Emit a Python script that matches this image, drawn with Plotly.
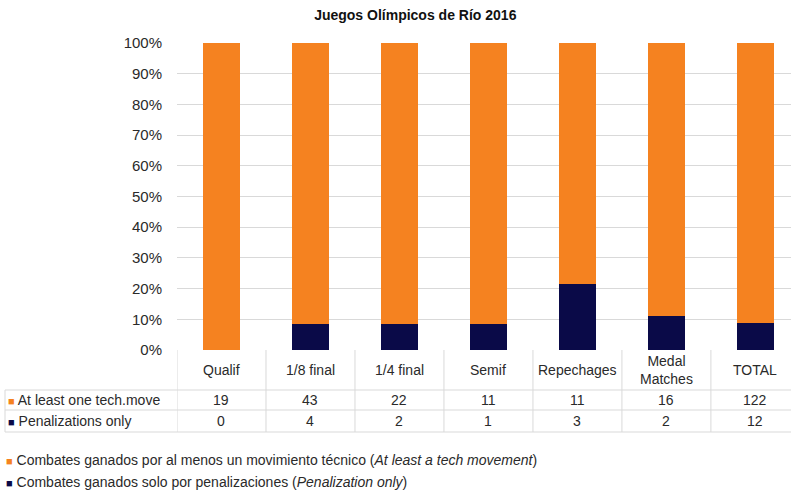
import plotly.graph_objects as go

categories = ["Qualif", "1/8 final", "1/4 final", "Semif", "Repechages", "Medal<br>Matches", "TOTAL"]
tech_move = [19, 43, 22, 11, 11, 16, 122]
penal_only = [0, 4, 2, 1, 3, 2, 12]
row_labels = ["At least one tech.move", "Penalizations only"]
legend_labels = [
    "Combates ganados por al menos un movimiento técnico (<i>At least a tech movement</i>)",
    "Combates ganados solo por penalizaciones (<i>Penalization only</i>)",
]

ORANGE = "#F58220"
NAVY = "#0A0A48"
GRID = "#D9D9D9"
FONT = "Arial, Liberation Sans, sans-serif"

W, H = 791, 493
L, T = 177, 43
PLOT_H = 307
R = 0
B = H - T - PLOT_H

xs = list(range(len(categories)))
totals = [a + b for a, b in zip(tech_move, penal_only)]
pct_pen = [b / t for b, t in zip(penal_only, totals)]
pct_tech = [a / t for a, t in zip(tech_move, totals)]

fig = go.Figure()
fig.add_bar(x=xs, y=pct_pen, marker_color=NAVY, width=0.41, name=row_labels[1],
            marker_line_width=0)
fig.add_bar(x=xs, y=pct_tech, marker_color=ORANGE, width=0.41, name=row_labels[0],
            marker_line_width=0)

def py(pix):
    return (T + PLOT_H - pix) / PLOT_H

def px(pix):
    return (pix - L) / (W - L - R)

shapes = []
line = dict(color=GRID, width=1)
for yy in [390, 410, 432]:
    shapes.append(dict(type="line", xref="paper", yref="paper", x0=px(5), x1=1.02,
                       y0=py(yy), y1=py(yy), line=line))
for i in range(len(categories) + 1):
    shapes.append(dict(type="line", xref="x", yref="paper", x0=i - 0.5, x1=i - 0.5,
                       y0=py(350), y1=py(432), line=line))
shapes.append(dict(type="line", xref="paper", yref="paper", x0=px(5), x1=px(5),
                   y0=py(390), y1=py(432), line=line))

annotations = []
tf = dict(family=FONT, size=14, color="#2a2a2a")
for i, c in enumerate(categories):
    annotations.append(dict(x=i, y=py(370), xref="x", yref="paper", text=c,
                            showarrow=False, font=tf, yanchor="middle"))
    annotations.append(dict(x=i, y=py(400), xref="x", yref="paper", text=str(tech_move[i]),
                            showarrow=False, font=tf, yanchor="middle"))
    annotations.append(dict(x=i, y=py(421), xref="x", yref="paper", text=str(penal_only[i]),
                            showarrow=False, font=tf, yanchor="middle"))

sq = "<span style='color:{c};font-size:11px'>■</span> "
annotations.append(dict(x=px(6), y=py(400), xref="paper", yref="paper", xanchor="left",
                        text=sq.format(c=ORANGE) + row_labels[0],
                        showarrow=False, font=tf, yanchor="middle"))
annotations.append(dict(x=px(6), y=py(421), xref="paper", yref="paper", xanchor="left",
                        text=sq.format(c=NAVY) + row_labels[1],
                        showarrow=False, font=tf, yanchor="middle"))
annotations.append(dict(x=px(4), y=py(460), xref="paper", yref="paper", xanchor="left",
                        text=sq.format(c=ORANGE) + legend_labels[0],
                        showarrow=False, font=tf, yanchor="middle"))
annotations.append(dict(x=px(4), y=py(482), xref="paper", yref="paper", xanchor="left",
                        text=sq.format(c=NAVY) + legend_labels[1],
                        showarrow=False, font=tf, yanchor="middle"))

fig.update_layout(
    width=W, height=H,
    margin=dict(l=L, r=R, t=T, b=B),
    barmode="stack",
    showlegend=False,
    plot_bgcolor="white", paper_bgcolor="white",
    title=dict(text="<b>Juegos Olímpicos de Río 2016</b>", x=0.525, xanchor="center",
               y=1 - 15 / H, yanchor="middle",
               font=dict(family=FONT, size=14, color="#111")),
    xaxis=dict(range=[-0.5, 6.4], showticklabels=False, showgrid=False, zeroline=False,
               fixedrange=True),
    yaxis=dict(range=[0, 1], dtick=0.1, tickformat=".0%", showgrid=True, gridcolor=GRID,
               gridwidth=1, zeroline=False, ticks="", ticklabelstandoff=14,
               tickfont=dict(family=FONT, size=15, color="#2a2a2a")),
    font=dict(family=FONT),
    shapes=shapes,
    annotations=annotations,
)

fig.write_html("out.html", config={"displayModeBar": False},
               post_script="document.body.style.margin='0';document.body.style.padding='0';")
